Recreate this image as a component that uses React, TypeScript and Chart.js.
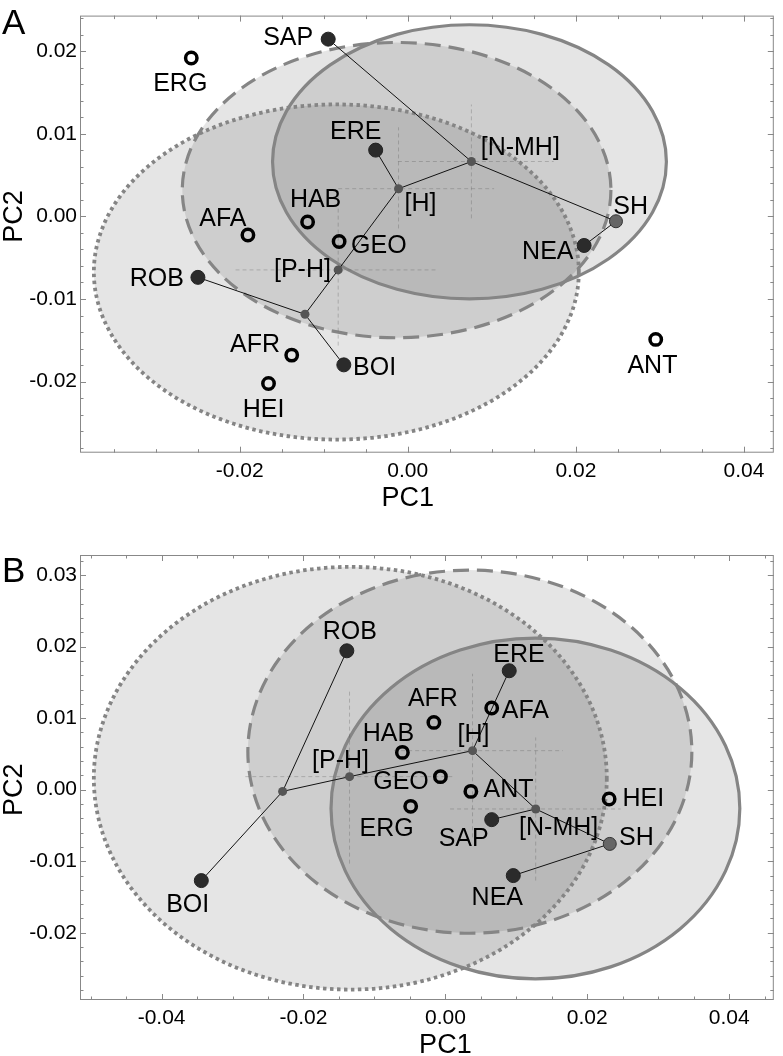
import React, { useEffect, useRef } from 'react';
import { Chart, registerables } from 'chart.js';

Chart.register(...registerables);

const FONT = '"Liberation Sans", Arial, Helvetica, sans-serif';

// ---------------- Panel A data ----------------
const idsA = ['SAP', 'ERG', 'ERE', 'HAB', 'AFA', 'GEO', 'ROB', 'AFR', 'BOI', 'HEI', 'NEA', 'ANT', 'SH', '[P-H]', 'n1', '[H]', '[N-MH]'];
const pc1A = [-0.00947, -0.02576, -0.00382, -0.01192, -0.01902, -0.00817, -0.02497, -0.01381, -0.00761, -0.01657, 0.02098, 0.0295, 0.02477, -0.00828, -0.01223, -0.0011, 0.00757];
const pc2A = [0.02145, 0.01916, 0.00802, -0.00068, -0.00225, -0.00304, -0.00738, -0.01679, -0.01797, -0.02022, -0.00352, -0.01489, -0.00059, -0.00648, -0.01185, 0.00335, 0.00664];
const edgesA = [['SAP', '[N-MH]'], ['[N-MH]', 'SH'], ['SH', 'NEA'], ['[N-MH]', '[H]'], ['[H]', 'ERE'], ['[H]', '[P-H]'], ['[P-H]', 'n1'], ['n1', 'ROB'], ['n1', 'BOI']];
const rangeIdsA = ['[P-H]', '[H]', '[N-MH]'];
const rangeX1A = [-0.0205, -0.00828, -0.00118];
const rangeX2A = [0.00355, 0.01027, 0.01736];
const rangeY1A = [-0.01564, -0.00146, -0.00024];
const rangeY2A = [0.00272, 0.01078, 0.01354];
const ellCxA = [0.00734, -0.00133, -0.0085];
const ellCyA = [0.0066, 0.00318, -0.00673];
const ellRxA = [0.02343, 0.0255, 0.02885];
const ellRyA = [0.01659, 0.01787, 0.02028];
const xTicksA = [-0.02, 0, 0.02, 0.04];
const yTicksA = [-0.02, -0.01, 0, 0.01, 0.02];

// ---------------- Panel B data ----------------
const idsB = ['SAP', 'ERG', 'ERE', 'HAB', 'AFA', 'GEO', 'ROB', 'AFR', 'BOI', 'HEI', 'NEA', 'ANT', 'SH', '[P-H]', 'n1', '[H]', '[N-MH]'];
const pc1B = [0.00653, -0.00489, 0.009, -0.00606, 0.00653, -0.0007, -0.01389, -0.00162, -0.0344, 0.02308, 0.00957, 0.00359, 0.02317, -0.01351, -0.02294, 0.00383, 0.01273];
const pc2B = [-0.00419, -0.00233, 0.01662, 0.00521, 0.01141, 0.00182, 0.01941, 0.0094, -0.01271, -0.0013, -0.01201, -0.00024, -0.00758, 0.00182, -0.00024, 0.00545, -0.0027];
const edgesB = [['ROB', 'n1'], ['BOI', 'n1'], ['n1', '[P-H]'], ['[P-H]', '[H]'], ['[H]', 'ERE'], ['[H]', '[N-MH]'], ['[N-MH]', 'SAP'], ['[N-MH]', 'SH'], ['SH', 'NEA']];
const rangeIdsB = ['[P-H]', '[H]', '[N-MH]'];
const rangeX1B = [-0.0282, -0.00722, 0.00066];
const rangeX2B = [0.00116, 0.01656, 0.02471];
const rangeY1B = [-0.01034, -0.00666, -0.01271];
const rangeY2B = [0.01383, 0.0162, 0.0073];
const ellCxB = [0.01269, 0.00345, -0.0134];
const ellCyB = [-0.00263, 0.00531, 0.0016];
const ellRxB = [0.02881, 0.03129, 0.03615];
const ellRyB = [0.02381, 0.02538, 0.02954];
const xTicksB = [-0.04, -0.02, 0, 0.02, 0.04];
const yTicksB = [-0.02, -0.01, 0, 0.01, 0.02, 0.03];

// marker kind per taxon (same in both panels)
const kindOf: Record<string, string> = {
  SAP: 'filled', ERG: 'open', ERE: 'filled', HAB: 'open', AFA: 'open', GEO: 'open', ROB: 'filled',
  AFR: 'open', BOI: 'filled', HEI: 'open', NEA: 'filled', ANT: 'open', SH: 'sh',
  '[P-H]': 'node', n1: 'node', '[H]': 'node', '[N-MH]': 'node',
};
const ellStyles = ['solid', 'dashed', 'dotted'];

// ---------------- label placement (pixel offsets, styling) ----------------
const labelDxA = [-15, -11, -20, 8, -25, 12, -14, -11.6, 9.3, -5, -10.6, -3.3, -2.6, -7.3, 0, 6, 9.3];
const labelDyA = [-3, 24, -20, -24, -18, 2, 0, -12, 1.3, 25, 4.3, 25, -16, -2, 0, 13, -16];
const labelAlignA = ['right', 'center', 'center', 'center', 'center', 'left', 'right', 'right', 'left', 'center', 'right', 'center', 'left', 'right', 'none', 'left', 'left'];
const labelDxB = [-28, -24, 9.7, -14, 10, -11.6, 3, -1, -13.6, 13.4, -16, 12.7, 9.3, -9, 0, 1, 23];
const labelDyB = [17, 21, -17.5, -20, 0.7, 3.5, -21, -25.5, 22, -1.6, 20, -3.7, -8.3, -18, 0, -18, 17];
const labelAlignB = ['center', 'center', 'center', 'center', 'left', 'right', 'center', 'center', 'center', 'left', 'center', 'left', 'left', 'center', 'none', 'center', 'center'];

type PanelCfg = any;

const panelA: PanelCfg = {
  letter: 'A', ids: idsA, pc1: pc1A, pc2: pc2A, edges: edgesA,
  rangeIds: rangeIdsA, rangeX1: rangeX1A, rangeX2: rangeX2A, rangeY1: rangeY1A, rangeY2: rangeY2A,
  ellCx: ellCxA, ellCy: ellCyA, ellRx: ellRxA, ellRy: ellRyA,
  xMin: -0.039, xMax: 0.04355, yMin: -0.0286, yMax: 0.0243, xTicks: xTicksA, yTicks: yTicksA,
  labelDx: labelDxA, labelDy: labelDyA, labelAlign: labelAlignA,
  padTop: 6, padRight: 5.3, xAxisHeight: 75.3, letterY: 21.7,
};
const panelB: PanelCfg = {
  letter: 'B', ids: idsB, pc1: pc1B, pc2: pc2B, edges: edgesB,
  rangeIds: rangeIdsB, rangeX1: rangeX1B, rangeX2: rangeX2B, rangeY1: rangeY1B, rangeY2: rangeY2B,
  ellCx: ellCxB, ellCy: ellCyB, ellRx: ellRxB, ellRy: ellRyB,
  xMin: -0.0515, xMax: 0.04629, yMin: -0.0294, yMax: 0.0328, xTicks: xTicksB, yTicks: yTicksB,
  labelDx: labelDxB, labelDy: labelDyB, labelAlign: labelAlignB,
  padTop: 27, padRight: 3.7, xAxisHeight: 56, letterY: 41,
};

function minorTicks(min: number, max: number, step: number) {
  const out: number[] = [];
  const start = Math.ceil(min / step - 1e-9);
  const end = Math.floor(max / step + 1e-9);
  for (let k = start; k <= end; k++) out.push(Math.round(k * step * 1e6) / 1e6);
  return out;
}

function makePlugin(p: PanelCfg) {
  return {
    id: 'decor' + p.letter,
    beforeDatasetsDraw(chart: any) {
      const { ctx, chartArea, scales } = chart;
      const xs = scales.x, ys = scales.y;
      ctx.save();
      ctx.beginPath();
      ctx.rect(chartArea.left, chartArea.top, chartArea.right - chartArea.left, chartArea.bottom - chartArea.top);
      ctx.clip();
      const geo = p.ellCx.map((cx: number, i: number) => {
        const px = xs.getPixelForValue(cx);
        const py = ys.getPixelForValue(p.ellCy[i]);
        const rx = Math.abs(xs.getPixelForValue(cx + p.ellRx[i]) - px);
        const ry = Math.abs(ys.getPixelForValue(p.ellCy[i] + p.ellRy[i]) - py);
        return [px, py, rx, ry];
      });
      geo.forEach(([px, py, rx, ry]: number[]) => {
        ctx.beginPath();
        ctx.ellipse(px, py, rx, ry, 0, 0, Math.PI * 2);
        ctx.fillStyle = 'rgba(0,0,0,0.1)';
        ctx.fill();
      });
      geo.forEach(([px, py, rx, ry]: number[], i: number) => {
        ctx.beginPath();
        ctx.ellipse(px, py, rx, ry, 0, 0, Math.PI * 2);
        ctx.strokeStyle = '#858585';
        ctx.lineCap = 'butt';
        const st = ellStyles[i];
        ctx.lineWidth = st === 'dotted' ? 3.8 : 3.2;
        ctx.setLineDash(st === 'dashed' ? [16, 8] : st === 'dotted' ? [3.5, 3.5] : []);
        ctx.stroke();
      });
      ctx.restore();
    },
    afterDatasetsDraw(chart: any) {
      const { ctx, scales } = chart;
      const xs = scales.x, ys = scales.y;
      ctx.save();
      ctx.fillStyle = '#000';
      const size = 25;
      ctx.font = `${size}px ${FONT}`;
      ctx.textBaseline = 'alphabetic';
      p.ids.forEach((id: string, i: number) => {
        const al = p.labelAlign[i];
        if (al === 'none') return;
        const px = xs.getPixelForValue(p.pc1[i]) + p.labelDx[i];
        const py = ys.getPixelForValue(p.pc2[i]) + p.labelDy[i] + size * 0.36;
        ctx.textAlign = al;
        ctx.fillText(id, px, py);
      });
      ctx.restore();
    },
    afterDraw(chart: any) {
      const { ctx, chartArea, scales } = chart;
      const xs = scales.x, ys = scales.y;
      const { left, right, top, bottom } = chartArea;
      ctx.save();
      ctx.strokeStyle = '#888';
      ctx.lineWidth = 1;
      ctx.setLineDash([]);
      ctx.strokeRect(left + 0.5, top + 0.5, right - left - 1, bottom - top - 1);
      ctx.beginPath();
      const xMajor = new Set(p.xTicks.map((v: number) => v.toFixed(4)));
      minorTicks(p.xMin, p.xMax, 0.005).forEach((v) => {
        const x = Math.round(xs.getPixelForValue(v)) + 0.5;
        const len = xMajor.has(v.toFixed(4)) ? 6 : 3.5;
        ctx.moveTo(x, bottom); ctx.lineTo(x, bottom - len);
        ctx.moveTo(x, top); ctx.lineTo(x, top + len);
      });
      const yMajor = new Set(p.yTicks.map((v: number) => v.toFixed(4)));
      minorTicks(p.yMin, p.yMax, 0.002).forEach((v) => {
        const y = Math.round(ys.getPixelForValue(v)) + 0.5;
        const len = yMajor.has(v.toFixed(4)) ? 6 : 3.5;
        ctx.moveTo(left, y); ctx.lineTo(left + len, y);
        ctx.moveTo(right, y); ctx.lineTo(right - len, y);
      });
      ctx.stroke();

      ctx.fillStyle = '#000';
      ctx.font = `27px ${FONT}`;
      ctx.textAlign = 'center';
      ctx.textBaseline = 'middle';
      ctx.fillText('PC1', xs.getPixelForValue(0), bottom + 46);
      ctx.save();
      ctx.translate(15, ys.getPixelForValue(0));
      ctx.rotate(-Math.PI / 2);
      ctx.fillText('PC2', 0, 0);
      ctx.restore();

      ctx.font = `35px ${FONT}`;
      ctx.textAlign = 'left';
      ctx.textBaseline = 'alphabetic';
      ctx.fillText(p.letter, 2, p.letterY + 35 * 0.36);
      ctx.restore();
    },
  };
}

function buildDatasets(p: PanelCfg) {
  const pt = (id: string) => {
    const i = p.ids.indexOf(id);
    return { x: p.pc1[i], y: p.pc2[i] };
  };
  const ds: any[] = [];
  p.rangeIds.forEach((id: string, i: number) => {
    const c = pt(id);
    const common = {
      showLine: true, borderColor: 'rgba(80,80,80,0.3)', borderWidth: 1, borderDash: [4, 3],
      pointRadius: 0, order: 3, fill: false,
    };
    ds.push({ ...common, label: id + ' PC1 range', data: [{ x: p.rangeX1[i], y: c.y }, { x: p.rangeX2[i], y: c.y }] });
    ds.push({ ...common, label: id + ' PC2 range', data: [{ x: c.x, y: p.rangeY1[i] }, { x: c.x, y: p.rangeY2[i] }] });
  });
  p.edges.forEach(([a, b]: string[]) => {
    ds.push({
      label: a + '-' + b, data: [pt(a), pt(b)], showLine: true, borderColor: '#111', borderWidth: 1,
      pointRadius: 0, order: 2, fill: false,
    });
  });
  const ofKind = (k: string) => p.ids.filter((id: string) => kindOf[id] === k).map(pt);
  ds.push({ label: 'filled', data: ofKind('filled'), pointRadius: 7, backgroundColor: '#2b2b2b', borderColor: '#222', borderWidth: 1, order: 0 });
  ds.push({ label: 'open', data: ofKind('open'), pointRadius: 5.7, backgroundColor: 'rgba(0,0,0,0)', borderColor: '#000', borderWidth: 3.5, order: 0 });
  ds.push({ label: 'node', data: ofKind('node'), pointRadius: 4.5, backgroundColor: '#555', borderColor: '#555', borderWidth: 0, order: 1 });
  ds.push({ label: 'SH', data: ofKind('sh'), pointRadius: 6.5, backgroundColor: '#666', borderColor: '#333', borderWidth: 1, order: 0 });
  return ds;
}

function PanelChart({ p, height }: { p: PanelCfg; height: number }) {
  const ref = useRef<HTMLCanvasElement | null>(null);
  useEffect(() => {
    if (!ref.current) return;
    const fmt = (v: number) => (Math.abs(v) < 1e-9 ? '0.00' : v.toFixed(2));
    const chart = new Chart(ref.current, {
      type: 'scatter',
      data: { datasets: buildDatasets(p) },
      options: {
        animation: false,
        responsive: false,
        events: [],
        layout: { padding: { top: p.padTop, right: p.padRight, left: 0, bottom: 0 } },
        plugins: { legend: { display: false }, tooltip: { enabled: false } },
        scales: {
          x: {
            type: 'linear', position: 'bottom', min: p.xMin, max: p.xMax,
            afterBuildTicks: (s: any) => { s.ticks = p.xTicks.map((v: number) => ({ value: v })); },
            afterFit: (s: any) => { s.height = p.xAxisHeight; },
            grid: { display: false, drawTicks: false, tickLength: 0 },
            border: { display: false },
            ticks: { color: '#000', font: { family: FONT, size: 21 }, padding: 6, maxRotation: 0, autoSkip: false, callback: (v: any) => fmt(Number(v)) },
          },
          y: {
            type: 'linear', position: 'left', min: p.yMin, max: p.yMax,
            afterBuildTicks: (s: any) => { s.ticks = p.yTicks.map((v: number) => ({ value: v })); },
            afterFit: (s: any) => { s.width = 80; },
            grid: { display: false, drawTicks: false, tickLength: 0 },
            border: { display: false },
            ticks: { color: '#000', font: { family: FONT, size: 21 }, padding: 3, autoSkip: false, callback: (v: any) => fmt(Number(v)) },
          },
        },
      },
      plugins: [makePlugin(p)],
    } as any);
    return () => chart.destroy();
  }, [p]);
  return <canvas ref={ref} width={783} height={height} style={{ display: 'block', width: 783, height }} />;
}

export default function App() {
  return (
    <div style={{ position: 'absolute', left: 0, top: 0, width: 783, height: 1056, background: '#fff' }}>
      <PanelChart p={panelA} height={528} />
      <PanelChart p={panelB} height={528} />
    </div>
  );
}
